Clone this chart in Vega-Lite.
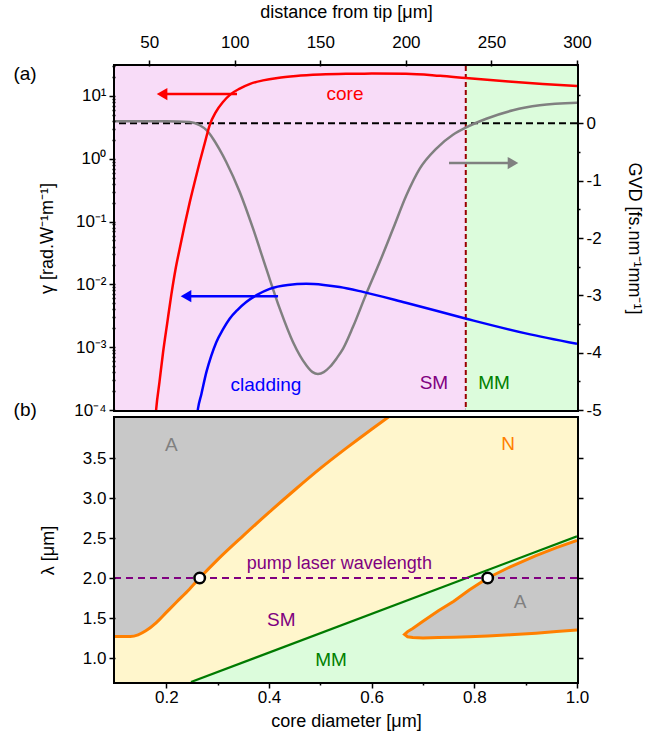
{
  "$schema": "https://vega.github.io/schema/vega-lite/v6.json",
  "padding": {"left": 11, "top": 1, "right": 0, "bottom": 0},
  "background": "white",
  "config": {
    "font": "Liberation Sans",
    "view": {"stroke": "black", "strokeWidth": 4},
    "axis": {"domain": false, "grid": false, "labelFontSize": 17, "titleFontSize": 18, "titleFontWeight": "normal", "labelColor": "black", "titleColor": "black", "tickColor": "black", "tickWidth": 1.5, "labelFlush": false, "labelOverlap": false, "labelBound": false}
  },
  "datasets": {
    "core": [
      {"d": 52.5, "g": 0.000025}, {"d": 54.1, "g": 0.000105}, {"d": 56, "g": 0.00028}, {"d": 58.1, "g": 0.00083},
      {"d": 60.5, "g": 0.0024}, {"d": 62.9, "g": 0.0068}, {"d": 65.3, "g": 0.017}, {"d": 67.8, "g": 0.037},
      {"d": 70.7, "g": 0.088}, {"d": 73.7, "g": 0.204}, {"d": 76.6, "g": 0.43}, {"d": 79.5, "g": 0.887},
      {"d": 82.4, "g": 1.75}, {"d": 85.3, "g": 3.41}, {"d": 89, "g": 5.6}, {"d": 93.1, "g": 8.02},
      {"d": 97.5, "g": 10.6}, {"d": 102.9, "g": 13.1}, {"d": 109, "g": 15.6}, {"d": 116.5, "g": 17.7},
      {"d": 125, "g": 19.4}, {"d": 135.8, "g": 20.8}, {"d": 150, "g": 21.9}, {"d": 165, "g": 22.5},
      {"d": 180, "g": 22.7}, {"d": 200, "g": 22.6}, {"d": 220, "g": 20.9}, {"d": 235, "g": 19.3},
      {"d": 260, "g": 17.0}, {"d": 280, "g": 15.5}, {"d": 300, "g": 14.35}
    ],
    "clad": [
      {"d": 76.5, "g": 0.000032}, {"d": 78.5, "g": 0.000105}, {"d": 80.5, "g": 0.00018}, {"d": 83.4, "g": 0.0004},
      {"d": 86.2, "g": 0.00072}, {"d": 89.2, "g": 0.0012}, {"d": 93, "g": 0.0019}, {"d": 97.0, "g": 0.00284},
      {"d": 101.5, "g": 0.0039}, {"d": 106.7, "g": 0.00524}, {"d": 113, "g": 0.0068}, {"d": 120.4, "g": 0.0085},
      {"d": 131, "g": 0.0098}, {"d": 141.8, "g": 0.0102}, {"d": 152, "g": 0.0098}, {"d": 161.3, "g": 0.0091},
      {"d": 174.9, "g": 0.0076}, {"d": 200, "g": 0.0051}, {"d": 235.3, "g": 0.00284}, {"d": 270, "g": 0.00166},
      {"d": 300, "g": 0.00113}
    ],
    "gvd": [
      {"d": 30, "v": 0.035}, {"d": 60, "v": 0.035}, {"d": 73.7, "v": 0.023}, {"d": 79.5, "v": -0.034},
      {"d": 83.5, "v": -0.12}, {"d": 87.3, "v": -0.268}, {"d": 91, "v": -0.45}, {"d": 95.0, "v": -0.674},
      {"d": 102.9, "v": -1.198}, {"d": 110.7, "v": -1.838}, {"d": 118.4, "v": -2.535}, {"d": 126.3, "v": -3.233},
      {"d": 134.0, "v": -3.814}, {"d": 141.8, "v": -4.22}, {"d": 145.5, "v": -4.34}, {"d": 148.6, "v": -4.37},
      {"d": 152, "v": -4.34}, {"d": 155.5, "v": -4.25}, {"d": 159.5, "v": -4.1}, {"d": 163.3, "v": -3.93},
      {"d": 169.1, "v": -3.55}, {"d": 176.9, "v": -2.97}, {"d": 184.7, "v": -2.42}, {"d": 192.5, "v": -1.84},
      {"d": 200.3, "v": -1.255}, {"d": 208.1, "v": -0.79}, {"d": 217.8, "v": -0.44}, {"d": 227.5, "v": -0.2},
      {"d": 235.3, "v": -0.07}, {"d": 247.0, "v": 0.08}, {"d": 262.6, "v": 0.227}, {"d": 278.2, "v": 0.314},
      {"d": 300, "v": 0.36}
    ],
    "ou": [
      {"d": 0.1, "lam": 1.27}, {"d": 0.13, "lam": 1.27}, {"d": 0.145, "lam": 1.29}, {"d": 0.16, "lam": 1.34},
      {"d": 0.18, "lam": 1.44}, {"d": 0.2, "lam": 1.57}, {"d": 0.22, "lam": 1.7}, {"d": 0.245, "lam": 1.86},
      {"d": 0.265, "lam": 2.0}, {"d": 0.3, "lam": 2.23}, {"d": 0.35, "lam": 2.53}, {"d": 0.4, "lam": 2.82},
      {"d": 0.45, "lam": 3.1}, {"d": 0.5, "lam": 3.37}, {"d": 0.55, "lam": 3.62}, {"d": 0.6, "lam": 3.86},
      {"d": 0.63, "lam": 4.0}, {"d": 0.7, "lam": 4.32}, {"d": 1.0, "lam": 5.7}
    ],
    "gl": [{"d": 0.248, "lam": 0.7}, {"d": 1.0, "lam": 2.52}],
    "isl": [
      {"d": 0.664, "up": 1.295, "lo": 1.295}, {"d": 0.67, "up": 1.33, "lo": 1.265}, {"d": 0.68, "up": 1.37, "lo": 1.255},
      {"d": 0.7, "up": 1.46, "lo": 1.25}, {"d": 0.73, "up": 1.59, "lo": 1.255}, {"d": 0.76, "up": 1.71, "lo": 1.26},
      {"d": 0.79, "up": 1.85, "lo": 1.265}, {"d": 0.826, "up": 2.0, "lo": 1.275}, {"d": 0.87, "up": 2.14, "lo": 1.29},
      {"d": 0.92, "up": 2.28, "lo": 1.31}, {"d": 0.96, "up": 2.38, "lo": 1.33}, {"d": 1.0, "up": 2.47, "lo": 1.35}
    ],
    "islLine": [
      {"k": 1, "d": 1.0, "lam": 1.35}, {"k": 2, "d": 0.96, "lam": 1.33}, {"k": 3, "d": 0.92, "lam": 1.31},
      {"k": 4, "d": 0.87, "lam": 1.29}, {"k": 5, "d": 0.826, "lam": 1.275}, {"k": 6, "d": 0.79, "lam": 1.265},
      {"k": 7, "d": 0.76, "lam": 1.26}, {"k": 8, "d": 0.73, "lam": 1.255}, {"k": 9, "d": 0.7, "lam": 1.25},
      {"k": 10, "d": 0.68, "lam": 1.255}, {"k": 11, "d": 0.67, "lam": 1.265}, {"k": 12, "d": 0.664, "lam": 1.295},
      {"k": 13, "d": 0.67, "lam": 1.33}, {"k": 14, "d": 0.68, "lam": 1.37}, {"k": 15, "d": 0.7, "lam": 1.46},
      {"k": 16, "d": 0.73, "lam": 1.59}, {"k": 17, "d": 0.76, "lam": 1.71}, {"k": 18, "d": 0.79, "lam": 1.85},
      {"k": 19, "d": 0.826, "lam": 2.0}, {"k": 20, "d": 0.87, "lam": 2.14}, {"k": 21, "d": 0.92, "lam": 2.28},
      {"k": 22, "d": 0.96, "lam": 2.38}, {"k": 23, "d": 1.0, "lam": 2.47}
    ]
  },
  "vconcat": [
    {
      "width": 462,
      "height": 344,
      "resolve": {"scale": {"y": "independent"}, "axis": {"x": "independent", "y": "independent"}},
      "layer": [
        {
          "data": {"values": [{"a": 30, "b": 235}]},
          "mark": {"type": "rect", "color": "#f8dcf8"},
          "encoding": {
            "x": {"field": "a", "type": "quantitative", "scale": {"domain": [30, 300], "nice": false, "zero": false}, "axis": null},
            "x2": {"field": "b"}
          }
        },
        {
          "data": {"values": [{"a": 235, "b": 300}]},
          "mark": {"type": "rect", "color": "#dcfcdc"},
          "encoding": {
            "x": {"field": "a", "type": "quantitative", "scale": {"domain": [30, 300], "nice": false, "zero": false}, "axis": null},
            "x2": {"field": "b"}
          }
        },
        {
          "data": {"values": [{"d": 235}]},
          "mark": {"type": "rule", "color": "#990000", "strokeWidth": 2, "strokeDash": [5, 3]},
          "encoding": {
            "x": {"field": "d", "type": "quantitative", "scale": {"domain": [30, 300], "nice": false, "zero": false}, "axis": null}
          }
        },
        {
          "data": {"values": [{"v": 0}]},
          "mark": {"type": "rule", "color": "black", "strokeWidth": 2, "strokeDash": [7, 4]},
          "encoding": {
            "y": {"field": "v", "type": "quantitative", "scale": {"domain": [-5, 1], "nice": false, "zero": false}, "axis": null}
          }
        },
        {
          "data": {"name": "gvd"},
          "mark": {"type": "line", "color": "#808080", "strokeWidth": 2.5, "clip": true, "interpolate": "monotone"},
          "encoding": {
            "x": {"field": "d", "type": "quantitative", "scale": {"domain": [30, 300], "nice": false, "zero": false}, "axis": null},
            "y": {"field": "v", "type": "quantitative", "scale": {"domain": [-5, 1], "nice": false, "zero": false},
              "axis": {"orient": "right", "zindex": 2, "title": "GVD [fs.nm⁻¹mm⁻¹]", "values": [-5, -4, -3, -2, -1, 0],
                "labelExpr": "datum.value < 0 ? '-' + abs(datum.value) : '0'",
                "tickSize": 6, "labelPadding": 3, "titlePadding": 23}}
          }
        },
        {
          "data": {"name": "core"},
          "mark": {"type": "line", "color": "#ff0000", "strokeWidth": 2.5, "clip": true, "interpolate": "monotone"},
          "encoding": {
            "x": {"field": "d", "type": "quantitative", "scale": {"domain": [30, 300], "nice": false, "zero": false},
              "axis": {"orient": "top", "zindex": 2, "title": "distance from tip [μm]", "values": [50, 100, 150, 200, 250, 300], "tickSize": 6, "labelPadding": 9, "titlePadding": 12}},
            "y": {"field": "g", "type": "quantitative", "scale": {"type": "log", "domain": [0.0001, 30], "nice": false},
              "axis": {"orient": "left", "zindex": 2, "title": "γ [rad.W⁻¹m⁻¹]",
                "values": [0.0001, 0.001, 0.01, 0.1, 1, 10],
                "labelExpr": "datum.value == 10 ? '10¹' : datum.value == 1 ? '10⁰' : datum.value == 0.1 ? '10⁻¹' : datum.value == 0.01 ? '10⁻²' : datum.value == 0.001 ? '10⁻³' : '10⁻⁴'",
                "tickSize": 6, "labelPadding": 3, "titlePadding": 17}}
          }
        },
        {
          "data": {"name": "clad"},
          "mark": {"type": "line", "color": "#0000ff", "strokeWidth": 2.5, "clip": true, "interpolate": "monotone"},
          "encoding": {
            "x": {"field": "d", "type": "quantitative", "scale": {"domain": [30, 300], "nice": false, "zero": false}, "axis": null},
            "y": {"field": "g", "type": "quantitative", "scale": {"type": "log", "domain": [0.0001, 30], "nice": false},
              "axis": {"orient": "left", "zindex": 2, "labels": false, "title": null, "tickSize": 3,
                "values": [0.0002, 0.0003, 0.0004, 0.0005, 0.0006, 0.0007, 0.0008, 0.0009, 0.002, 0.003, 0.004, 0.005, 0.006, 0.007, 0.008, 0.009, 0.02, 0.03, 0.04, 0.05, 0.06, 0.07, 0.08, 0.09, 0.2, 0.3, 0.4, 0.5, 0.6, 0.7, 0.8, 0.9, 2, 3, 4, 5, 6, 7, 8, 9, 20, 30]}}
          }
        },
        {
          "data": {"values": [{"a": 57.5, "b": 101.3, "g": 10.7}]},
          "mark": {"type": "rule", "color": "#ff0000", "strokeWidth": 2.5},
          "encoding": {
            "x": {"field": "a", "type": "quantitative", "scale": {"domain": [30, 300], "nice": false, "zero": false}, "axis": null},
            "x2": {"field": "b"},
            "y": {"field": "g", "type": "quantitative", "scale": {"type": "log", "domain": [0.0001, 30], "nice": false}, "axis": null}
          }
        },
        {
          "data": {"values": [{"a": 57.5, "g": 10.7}]},
          "mark": {"type": "point", "shape": "triangle-left", "filled": true, "color": "#ff0000", "size": 150, "opacity": 1},
          "encoding": {
            "x": {"field": "a", "type": "quantitative", "scale": {"domain": [30, 300], "nice": false, "zero": false}, "axis": null},
            "y": {"field": "g", "type": "quantitative", "scale": {"type": "log", "domain": [0.0001, 30], "nice": false}, "axis": null}
          }
        },
        {
          "data": {"values": [{"a": 71.5, "b": 125.3, "g": 0.0065}]},
          "mark": {"type": "rule", "color": "#0000ff", "strokeWidth": 2.5},
          "encoding": {
            "x": {"field": "a", "type": "quantitative", "scale": {"domain": [30, 300], "nice": false, "zero": false}, "axis": null},
            "x2": {"field": "b"},
            "y": {"field": "g", "type": "quantitative", "scale": {"type": "log", "domain": [0.0001, 30], "nice": false}, "axis": null}
          }
        },
        {
          "data": {"values": [{"a": 71.5, "g": 0.0065}]},
          "mark": {"type": "point", "shape": "triangle-left", "filled": true, "color": "#0000ff", "size": 150, "opacity": 1},
          "encoding": {
            "x": {"field": "a", "type": "quantitative", "scale": {"domain": [30, 300], "nice": false, "zero": false}, "axis": null},
            "y": {"field": "g", "type": "quantitative", "scale": {"type": "log", "domain": [0.0001, 30], "nice": false}, "axis": null}
          }
        },
        {
          "data": {"values": [{"a": 225.2, "b": 262.6, "v": -0.692}]},
          "mark": {"type": "rule", "color": "#808080", "strokeWidth": 2.5},
          "encoding": {
            "x": {"field": "a", "type": "quantitative", "scale": {"domain": [30, 300], "nice": false, "zero": false}, "axis": null},
            "x2": {"field": "b"},
            "y": {"field": "v", "type": "quantitative", "scale": {"domain": [-5, 1], "nice": false, "zero": false},
              "axis": {"orient": "right", "zindex": 2, "labels": false, "title": null, "tickSize": 3,
                "values": [-4.5, -3.5, -2.5, -1.5, -0.5, 0.5]}}
          }
        },
        {
          "data": {"values": [{"a": 262.6, "v": -0.692}]},
          "mark": {"type": "point", "shape": "triangle-right", "filled": true, "color": "#808080", "size": 150, "opacity": 1},
          "encoding": {
            "x": {"field": "a", "type": "quantitative", "scale": {"domain": [30, 300], "nice": false, "zero": false}, "axis": null},
            "y": {"field": "v", "type": "quantitative", "scale": {"domain": [-5, 1], "nice": false, "zero": false}, "axis": null}
          }
        },
        {
          "data": {"values": [
            {"d": 164.4, "g": 10.7, "t": "core"},
            {"d": 118.2, "g": 0.00025, "t": "cladding"},
            {"d": 216.4, "g": 0.00027, "t": "SM"},
            {"d": 251.5, "g": 0.00027, "t": "MM"},
            {"d": -22.6, "g": 22.4, "t": "(a)"}
          ]},
          "mark": {"type": "text", "fontSize": 19, "align": "center", "baseline": "middle", "clip": false},
          "encoding": {
            "x": {"field": "d", "type": "quantitative", "scale": {"domain": [30, 300], "nice": false, "zero": false}, "axis": null},
            "y": {"field": "g", "type": "quantitative", "scale": {"type": "log", "domain": [0.0001, 30], "nice": false}, "axis": null},
            "text": {"field": "t"},
            "color": {"field": "t", "type": "nominal", "scale": {"domain": ["core", "cladding", "SM", "MM", "(a)"], "range": ["#ff0000", "#0000ff", "#800080", "#008000", "#000000"]}, "legend": null}
          }
        }
      ]
    },
    {
      "width": 462,
      "height": 264,
      "resolve": {"axis": {"x": "independent", "y": "independent"}},
      "layer": [
        {
          "data": {"values": [{"a": 0.1, "b": 1.0}]},
          "mark": {"type": "rect", "color": "#c8c8c8"},
          "encoding": {
            "x": {"field": "a", "type": "quantitative", "scale": {"domain": [0.1, 1.0], "nice": false, "zero": false}, "axis": null},
            "x2": {"field": "b"}
          }
        },
        {
          "data": {"name": "ou"},
          "mark": {"type": "area", "color": "#fff6cc", "clip": true, "opacity": 1},
          "encoding": {
            "x": {"field": "d", "type": "quantitative", "scale": {"domain": [0.1, 1.0], "nice": false, "zero": false},
              "axis": {"orient": "bottom", "zindex": 2, "title": "core diameter [μm]", "values": [0.2, 0.4, 0.6, 0.8, 1.0], "format": ".1f",
                "tickSize": 6, "labelPadding": 1, "titlePadding": 7}},
            "y": {"field": "lam", "type": "quantitative", "scale": {"domain": [0.7, 4.0], "nice": false, "zero": false},
              "axis": {"orient": "left", "zindex": 2, "title": "λ [μm]", "values": [1.0, 1.5, 2.0, 2.5, 3.0, 3.5], "format": ".1f", "tickSize": 6, "labelPadding": 3, "titlePadding": 25}},
            "y2": {"datum": 0.7}
          }
        },
        {
          "data": {"name": "gl"},
          "mark": {"type": "area", "color": "#dcfcdc", "clip": true, "opacity": 1},
          "encoding": {
            "x": {"field": "d", "type": "quantitative", "scale": {"domain": [0.1, 1.0], "nice": false, "zero": false}, "axis": null},
            "y": {"field": "lam", "type": "quantitative", "scale": {"domain": [0.7, 4.0], "nice": false, "zero": false}, "axis": null},
            "y2": {"datum": 0.7}
          }
        },
        {
          "data": {"name": "isl"},
          "mark": {"type": "area", "color": "#c8c8c8", "clip": true, "opacity": 1, "interpolate": "monotone"},
          "encoding": {
            "x": {"field": "d", "type": "quantitative", "scale": {"domain": [0.1, 1.0], "nice": false, "zero": false},
              "axis": {"orient": "bottom", "zindex": 2, "values": [0.3, 0.5, 0.7, 0.9], "labels": false, "title": null, "tickSize": 3}},
            "y": {"field": "up", "type": "quantitative", "scale": {"domain": [0.7, 4.0], "nice": false, "zero": false}, "axis": null},
            "y2": {"field": "lo"}
          }
        },
        {
          "data": {"name": "gl"},
          "mark": {"type": "line", "color": "#007a00", "strokeWidth": 2.2, "clip": true},
          "encoding": {
            "x": {"field": "d", "type": "quantitative", "scale": {"domain": [0.1, 1.0], "nice": false, "zero": false}, "axis": null},
            "y": {"field": "lam", "type": "quantitative", "scale": {"domain": [0.7, 4.0], "nice": false, "zero": false},
              "axis": {"orient": "right", "zindex": 2, "values": [1.0, 1.5, 2.0, 2.5, 3.0, 3.5], "labels": false, "tickSize": 6, "title": null}}
          }
        },
        {
          "data": {"name": "ou"},
          "mark": {"type": "line", "color": "#ff8000", "strokeWidth": 3, "clip": true, "interpolate": "monotone"},
          "encoding": {
            "x": {"field": "d", "type": "quantitative", "scale": {"domain": [0.1, 1.0], "nice": false, "zero": false}, "axis": null},
            "y": {"field": "lam", "type": "quantitative", "scale": {"domain": [0.7, 4.0], "nice": false, "zero": false}, "axis": null}
          }
        },
        {
          "data": {"name": "islLine"},
          "mark": {"type": "line", "color": "#ff8000", "strokeWidth": 3, "clip": true},
          "encoding": {
            "x": {"field": "d", "type": "quantitative", "scale": {"domain": [0.1, 1.0], "nice": false, "zero": false}, "axis": null},
            "y": {"field": "lam", "type": "quantitative", "scale": {"domain": [0.7, 4.0], "nice": false, "zero": false}, "axis": null},
            "order": {"field": "k", "type": "quantitative"}
          }
        },
        {
          "data": {"values": [{"lam": 2.0}]},
          "mark": {"type": "rule", "color": "#800080", "strokeWidth": 2, "strokeDash": [7, 5]},
          "encoding": {
            "y": {"field": "lam", "type": "quantitative", "scale": {"domain": [0.7, 4.0], "nice": false, "zero": false}, "axis": null}
          }
        },
        {
          "data": {"values": [{"d": 0.265, "lam": 2.0}, {"d": 0.826, "lam": 2.0}]},
          "mark": {"type": "point", "shape": "circle", "filled": true, "fill": "white", "stroke": "black", "strokeWidth": 2.5, "size": 110, "opacity": 1},
          "encoding": {
            "x": {"field": "d", "type": "quantitative", "scale": {"domain": [0.1, 1.0], "nice": false, "zero": false}, "axis": null},
            "y": {"field": "lam", "type": "quantitative", "scale": {"domain": [0.7, 4.0], "nice": false, "zero": false}, "axis": null}
          }
        },
        {
          "data": {"values": [{"d": 0.537, "lam": 2.18, "t": "pump laser wavelength"}]},
          "mark": {"type": "text", "fontSize": 18, "align": "center", "baseline": "middle", "color": "#800080", "clip": false},
          "encoding": {
            "x": {"field": "d", "type": "quantitative", "scale": {"domain": [0.1, 1.0], "nice": false, "zero": false}, "axis": null},
            "y": {"field": "lam", "type": "quantitative", "scale": {"domain": [0.7, 4.0], "nice": false, "zero": false}, "axis": null},
            "text": {"field": "t"}
          }
        },
        {
          "data": {"values": [
            {"d": 0.21, "lam": 3.66, "t": "A"},
            {"d": 0.866, "lam": 3.68, "t": "N"},
            {"d": 0.424, "lam": 1.47, "t": "SM"},
            {"d": 0.521, "lam": 0.97, "t": "MM"},
            {"d": 0.889, "lam": 1.7, "t": "A"},
            {"d": -0.075, "lam": 4.1, "t": "(b)"}
          ]},
          "mark": {"type": "text", "fontSize": 19, "align": "center", "baseline": "middle", "clip": false},
          "encoding": {
            "x": {"field": "d", "type": "quantitative", "scale": {"domain": [0.1, 1.0], "nice": false, "zero": false}, "axis": null},
            "y": {"field": "lam", "type": "quantitative", "scale": {"domain": [0.7, 4.0], "nice": false, "zero": false}, "axis": null},
            "text": {"field": "t"},
            "color": {"field": "t", "type": "nominal", "scale": {"domain": ["A", "N", "SM", "MM", "(b)"], "range": ["#808080", "#ff8000", "#800080", "#008000", "#000000"]}, "legend": null}
          }
        }
      ]
    }
  ],
  "resolve": {"scale": {"color": "independent"}},
  "spacing": 8,
  "bounds": "flush"
}
